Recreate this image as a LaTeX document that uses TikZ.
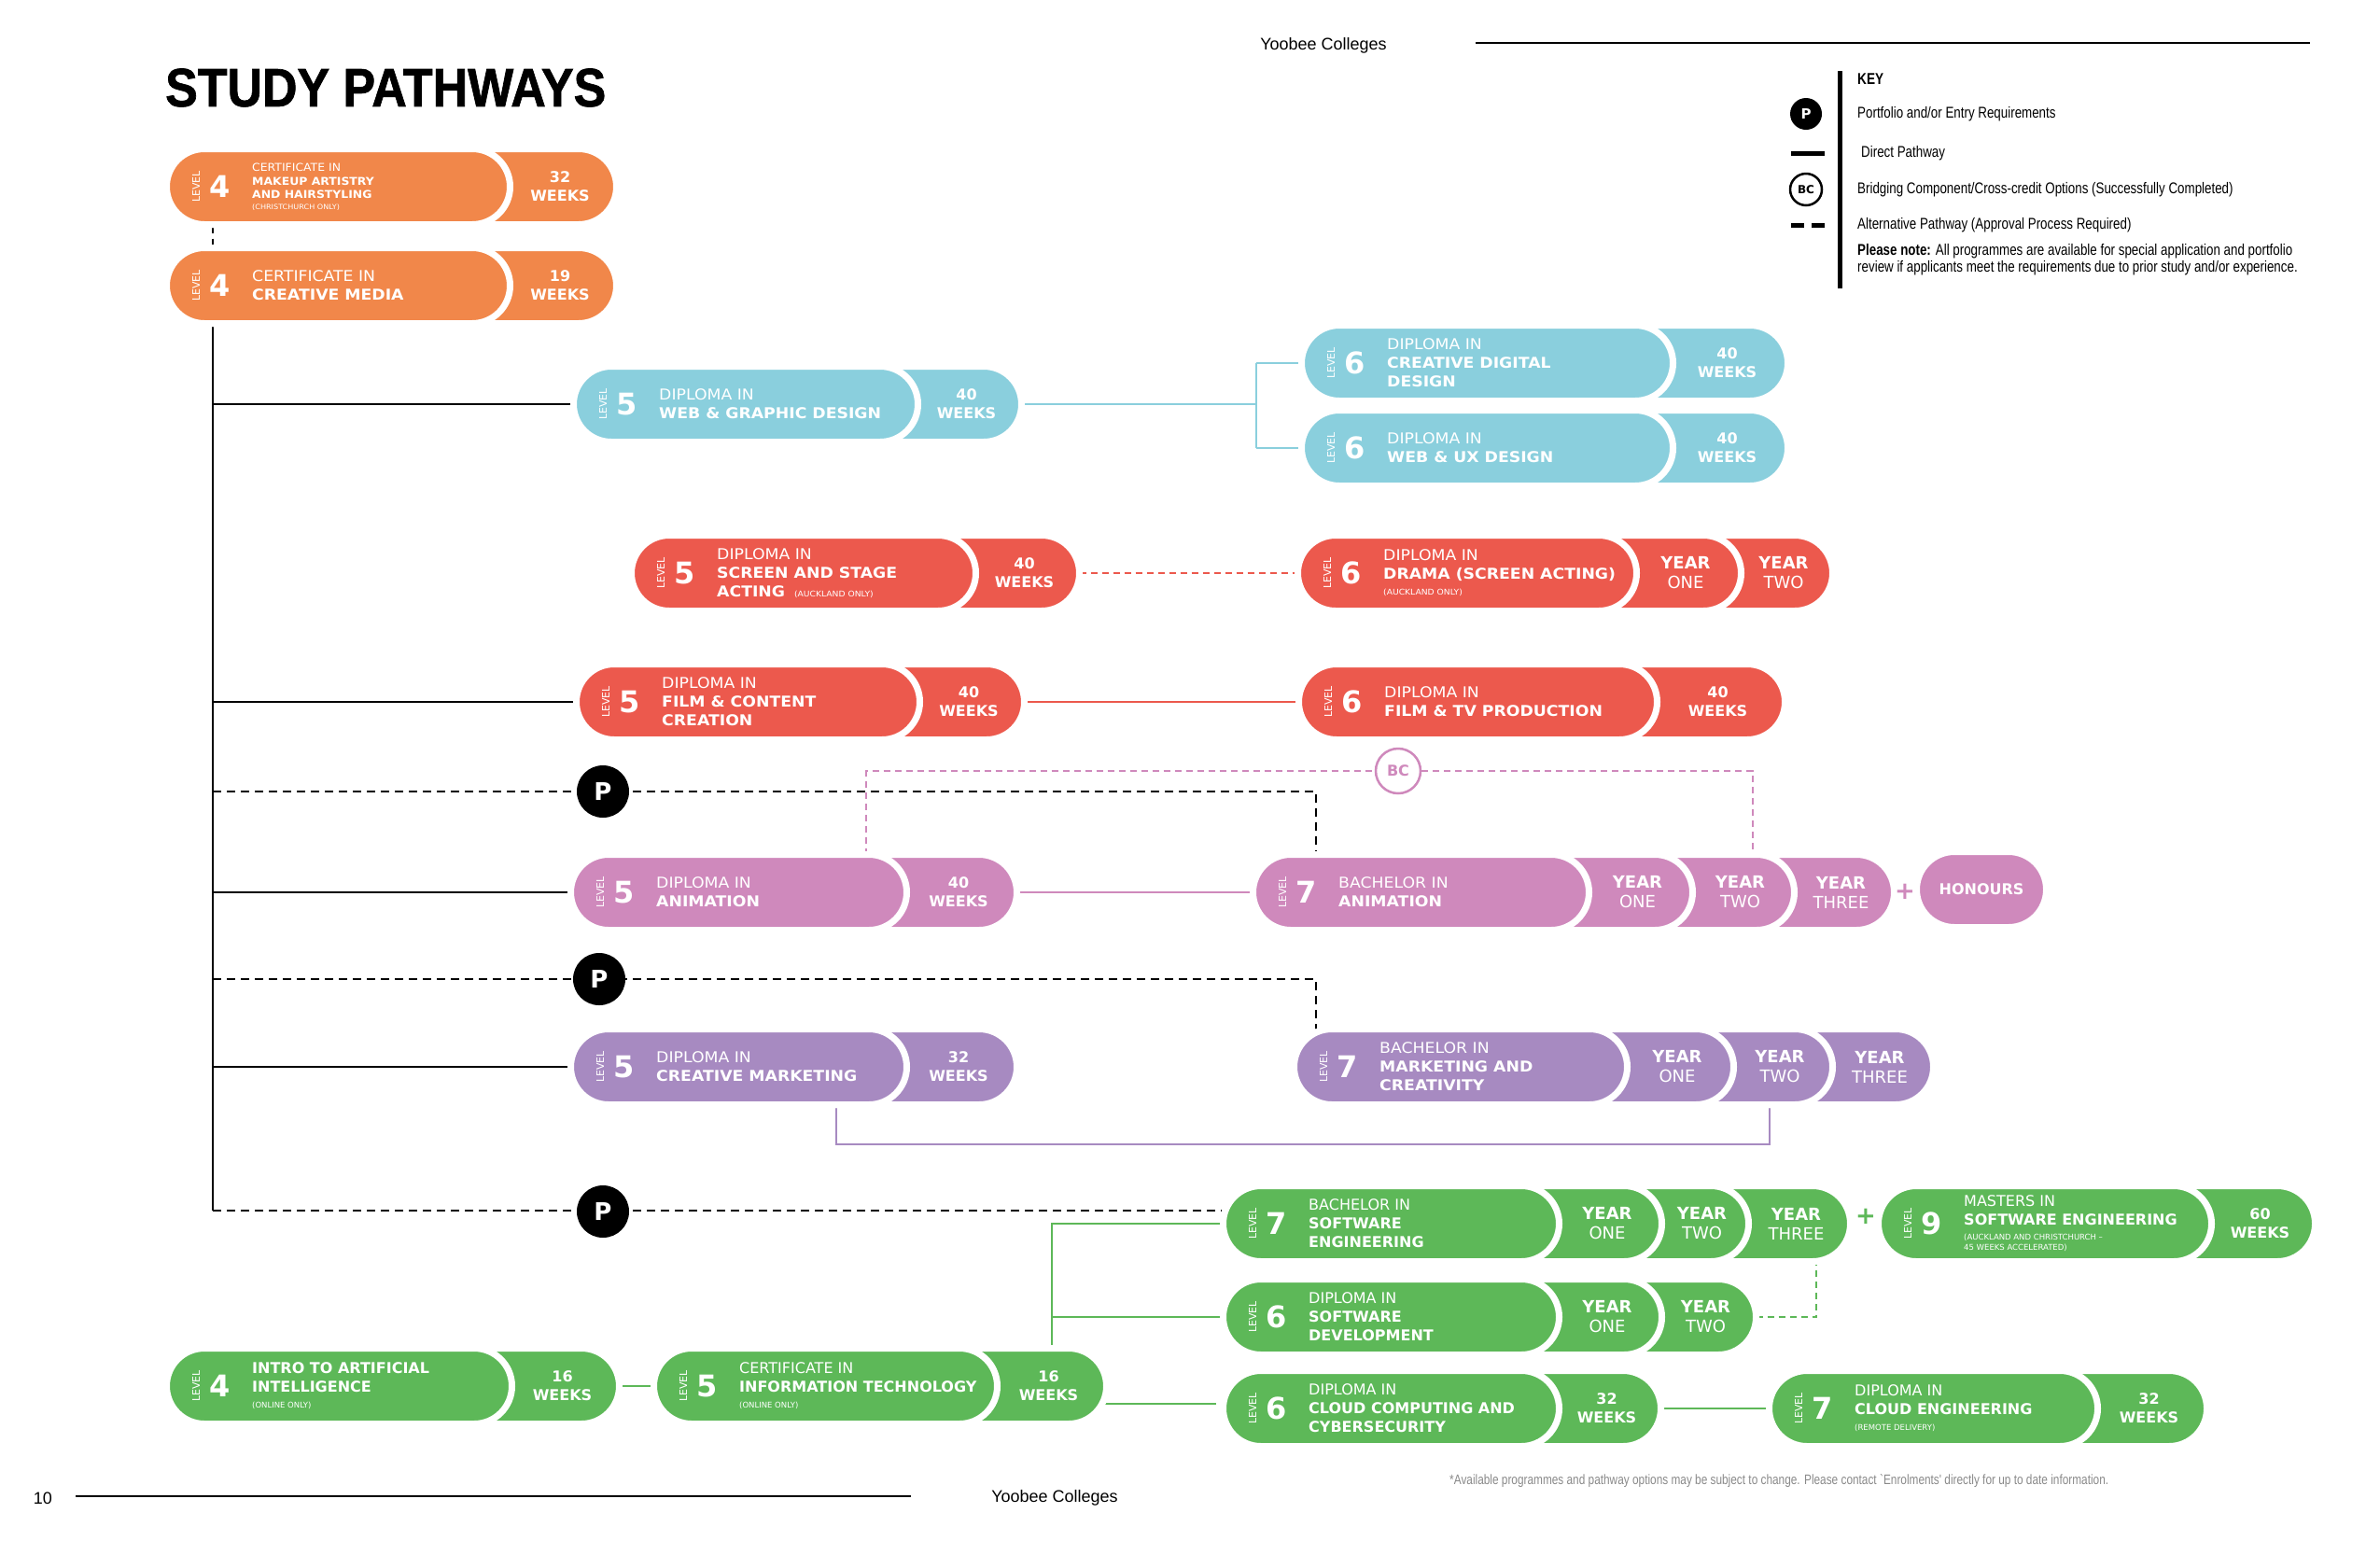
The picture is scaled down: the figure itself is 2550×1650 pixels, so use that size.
\documentclass[tikz,border=0pt]{standalone}
\usepackage{fontspec}
\setmainfont{DejaVu Sans}
\newfontfamily\pillfont[FakeStretch=1.08]{DejaVu Sans}
\newfontfamily\keyfont[FakeStretch=0.8]{Liberation Sans}
\newfontfamily\titlefont[FakeStretch=0.895,FakeBold=1.2]{Liberation Sans}
\newfontfamily\plainsans{Liberation Sans}
\usetikzlibrary{shapes.misc,backgrounds}
\definecolor{orangeC}{HTML}{F1874A}
\definecolor{blueC}{HTML}{8ACFDD}
\definecolor{redC}{HTML}{EC594D}
\definecolor{pinkC}{HTML}{CF89BC}
\definecolor{purpC}{HTML}{A78AC1}
\definecolor{greenC}{HTML}{5DB858}
\definecolor{fnC}{HTML}{8A8A8A}
\tikzset{
 capsule/.style={rounded rectangle, draw=white, line width=7pt, minimum height=81pt, inner sep=0pt, outer sep=0pt, anchor=west},
 lvltxt/.style={rotate=90, text=white, font=\fontsize{11}{11}\selectfont, inner sep=0pt},
 digit/.style={text=white, font=\bfseries\fontsize{32}{32}\selectfont, inner sep=0pt},
 mtxt/.style={anchor=west, align=left, text=white, inner sep=0pt, font=\pillfont\fontsize{16}{20}\selectfont},
 gtxt/.style={font=\fontsize{16}{20}\selectfont},
 wtxt/.style={align=center, text=white, inner sep=0pt, font=\bfseries\fontsize{16}{20}\selectfont},
 ytxt/.style={align=center, text=white, inner sep=0pt, font=\bfseries\fontsize{18}{21}\selectfont},
 conn/.style={line width=2.5pt},
 dsh/.style={line width=2.5pt, dash pattern=on 9pt off 6pt},
 cdsh/.style={line width=2.2pt, dash pattern=on 7pt off 5pt},
 pcirc/.style={circle, fill=black, minimum size=56pt, inner sep=0pt, text=white, font=\bfseries\fontsize{26}{26}\selectfont},
 keytxt/.style={anchor=west, inner sep=0pt, font=\keyfont\fontsize{16.7}{18.5}\selectfont},
}
\newcommand\capsl[5]{\node[capsule,fill=#2,minimum width={#4-(#3)+7}] (#1) at ({#3-3.5},#5) {};}
\newcommand\lvl[4]{\node[lvltxt] (#1-lv) at ({#2+28},#3) {LEVEL};\node[digit] (#1-dg) at ({#2+54},#3) {#4};}
\newcommand\mtxt[5][]{\node[mtxt,#1] (#2-tx) at ({#3+88},#4) {#5};}
\newcommand\stxt[6][wtxt]{\node[#1] (#2) at ({(#3+#4)/2},#5) {#6};}
\newcommand\smalltxt[1]{{\fontsize{8.5}{10}\selectfont #1}}
\begin{document}
\begin{tikzpicture}[x=1pt,y=-1pt]
\useasboundingbox (0,0) rectangle (2550,1650);
% ---------- coordinates ----------
\coordinate (trk) at (228,0);
\coordinate (tend) at (228,1297);
\coordinate (dropx) at (1410,0);
\coordinate (bj) at (1346,433);
\coordinate (bcl) at (928,826);
\coordinate (bcr) at (1878,826);
\coordinate (mb1) at (896,1226);
\coordinate (mb2) at (1896,1226);
\coordinate (gv) at (1127,1311);
\coordinate (gd) at (1946,1411);
% ---------- title / header ----------
\node[anchor=west, inner sep=0pt, font=\titlefont\bfseries\fontsize{58}{58}\selectfont] (title) at (177,94) {STUDY PATHWAYS};
\node[inner sep=0pt, font=\plainsans\fontsize{18}{18}\selectfont] (hdr) at (1418,49) {Yoobee Colleges};
\draw[line width=1.5pt] (1581,46) -- (2475,46);
% ---------- key ----------
\draw[line width=5pt] (1971,76) -- (1971,309);
\node[circle, fill=black, minimum size=34pt, inner sep=0pt, text=white, font=\bfseries\fontsize{15}{15}\selectfont] (kp) at (1935,122) {P};
\draw[line width=5pt] (1919,164) -- (1955,164);
\node[circle, draw=black, fill=white, line width=2.5pt, minimum size=34pt, inner sep=0pt, font=\bfseries\fontsize{12}{12}\selectfont] (kbc) at (1935,203) {BC};
\draw[line width=5pt, dash pattern=on 14pt off 8pt] (1919,241) -- (1958,241);
\node[keytxt, font=\keyfont\bfseries\fontsize{17}{17}\selectfont] (kkey) at (1990,85) {KEY};
\node[keytxt] (k1) at (1990,122) {Portfolio and/or Entry Requirements};
\node[keytxt] (k2) at (1994,164) {Direct Pathway};
\node[keytxt] (k3) at (1990,203) {Bridging Component/Cross-credit Options (Successfully Completed)};
\node[keytxt] (k4) at (1990,241) {Alternative Pathway (Approval Process Required)};
\node[keytxt, align=left] (k5) at (1990,278) {\textbf{Please note:} All programmes are available for special application and portfolio\\review if applicants meet the requirements due to prior study and/or experience.};
% ---------- pills ----------
% makeup
\capsl{mk-s1}{orangeC}{182}{657}{200}
\capsl{mk}{orangeC}{182}{543}{200}
\lvl{mk}{182}{200}{4}
\mtxt[font=\pillfont\fontsize{11.5}{14.5}\selectfont]{mk}{182}{200}{CERTIFICATE IN\\\textbf{MAKEUP ARTISTRY}\\\textbf{AND HAIRSTYLING}\\[-3pt]{\fontsize{7.5}{9}\selectfont (CHRISTCHURCH ONLY)}}
\stxt{mk-w}{543}{657}{200}{32\\WEEKS}
% creative media
\capsl{cm-s1}{orangeC}{182}{657}{306}
\capsl{cm}{orangeC}{182}{543}{306}
\lvl{cm}{182}{306}{4}
\mtxt{cm}{182}{306}{CERTIFICATE IN\\\textbf{CREATIVE MEDIA}}
\stxt{cm-w}{543}{657}{306}{19\\WEEKS}
% web & graphic
\capsl{wg-s1}{blueC}{618}{1091}{433}
\capsl{wg}{blueC}{618}{980}{433}
\lvl{wg}{618}{433}{5}
\mtxt{wg}{618}{433}{DIPLOMA IN\\\textbf{WEB \& GRAPHIC DESIGN}}
\stxt{wg-w}{980}{1091}{433}{40\\WEEKS}
% creative digital design
\capsl{cdd-s1}{blueC}{1398}{1912}{389}
\capsl{cdd}{blueC}{1398}{1789}{389}
\lvl{cdd}{1398}{389}{6}
\mtxt{cdd}{1398}{389}{DIPLOMA IN\\\textbf{CREATIVE DIGITAL}\\\textbf{DESIGN}}
\stxt{cdd-w}{1789}{1912}{389}{40\\WEEKS}
% web & ux
\capsl{wux-s1}{blueC}{1398}{1912}{480}
\capsl{wux}{blueC}{1398}{1789}{480}
\lvl{wux}{1398}{480}{6}
\mtxt{wux}{1398}{480}{DIPLOMA IN\\\textbf{WEB \& UX DESIGN}}
\stxt{wux-w}{1789}{1912}{480}{40\\WEEKS}
% screen and stage acting
\capsl{ssa-s1}{redC}{680}{1153}{614}
\capsl{ssa}{redC}{680}{1042}{614}
\lvl{ssa}{680}{614}{5}
\mtxt{ssa}{680}{614}{DIPLOMA IN\\\textbf{SCREEN AND STAGE}\\\textbf{ACTING}\hspace{10pt}\smalltxt{(AUCKLAND ONLY)}}
\stxt{ssa-w}{1042}{1153}{614}{40\\WEEKS}
% drama
\capsl{dra-s2}{redC}{1394}{1960}{614}
\capsl{dra-s1}{redC}{1394}{1862}{614}
\capsl{dra}{redC}{1394}{1750}{614}
\lvl{dra}{1394}{614}{6}
\mtxt{dra}{1394}{614}{DIPLOMA IN\\\textbf{DRAMA (SCREEN ACTING)}\\[-3pt]\smalltxt{(AUCKLAND ONLY)}}
\stxt[ytxt]{dra-y1}{1750}{1862}{614}{YEAR\\\mdseries ONE}
\stxt[ytxt]{dra-y2}{1862}{1960}{614}{YEAR\\\mdseries TWO}
% film & content creation
\capsl{fcc-s1}{redC}{621}{1094}{752}
\capsl{fcc}{redC}{621}{982}{752}
\lvl{fcc}{621}{752}{5}
\mtxt{fcc}{621}{752}{DIPLOMA IN\\\textbf{FILM \& CONTENT}\\\textbf{CREATION}}
\stxt{fcc-w}{982}{1094}{752}{40\\WEEKS}
% film & tv
\capsl{ftv-s1}{redC}{1395}{1909}{752}
\capsl{ftv}{redC}{1395}{1772}{752}
\lvl{ftv}{1395}{752}{6}
\mtxt{ftv}{1395}{752}{DIPLOMA IN\\\textbf{FILM \& TV PRODUCTION}}
\stxt{ftv-w}{1772}{1909}{752}{40\\WEEKS}
% diploma animation
\capsl{dan-s1}{pinkC}{615}{1086}{956}
\capsl{dan}{pinkC}{615}{968}{956}
\lvl{dan}{615}{956}{5}
\mtxt{dan}{615}{956}{DIPLOMA IN\\\textbf{ANIMATION}}
\stxt{dan-w}{968}{1086}{956}{40\\WEEKS}
% bachelor animation
\capsl{ban-s3}{pinkC}{1346}{2026}{956}
\capsl{ban-s2}{pinkC}{1346}{1919}{956}
\capsl{ban-s1}{pinkC}{1346}{1810}{956}
\capsl{ban}{pinkC}{1346}{1699}{956}
\lvl{ban}{1346}{956}{7}
\mtxt{ban}{1346}{956}{BACHELOR IN\\\textbf{ANIMATION}}
\stxt[ytxt]{ban-y1}{1699}{1810}{956}{YEAR\\\mdseries ONE}
\stxt[ytxt]{ban-y2}{1810}{1919}{956}{YEAR\\\mdseries TWO}
\stxt[ytxt]{ban-y3}{1919}{2026}{956}{YEAR\\\mdseries THREE}
\node[text=pinkC, inner sep=0pt, font=\bfseries\fontsize{26}{26}\selectfont] (plus1) at (2041,955) {+};
\node[capsule, anchor=center, fill=pinkC, minimum width=139pt, text=white, font=\bfseries\fontsize{16}{16}\selectfont] (hon) at (2123,953) {HONOURS};
% creative marketing
\capsl{dcm-s1}{purpC}{615}{1086}{1143}
\capsl{dcm}{purpC}{615}{968}{1143}
\lvl{dcm}{615}{1143}{5}
\mtxt{dcm}{615}{1143}{DIPLOMA IN\\\textbf{CREATIVE MARKETING}}
\stxt{dcm-w}{968}{1086}{1143}{32\\WEEKS}
% bachelor marketing
\capsl{bmc-s3}{purpC}{1390}{2068}{1143}
\capsl{bmc-s2}{purpC}{1390}{1960}{1143}
\capsl{bmc-s1}{purpC}{1390}{1854}{1143}
\capsl{bmc}{purpC}{1390}{1740}{1143}
\lvl{bmc}{1390}{1143}{7}
\mtxt{bmc}{1390}{1143}{BACHELOR IN\\\textbf{MARKETING AND}\\\textbf{CREATIVITY}}
\stxt[ytxt]{bmc-y1}{1740}{1854}{1143}{YEAR\\\mdseries ONE}
\stxt[ytxt]{bmc-y2}{1854}{1960}{1143}{YEAR\\\mdseries TWO}
\stxt[ytxt]{bmc-y3}{1960}{2068}{1143}{YEAR\\\mdseries THREE}
% bachelor software engineering
\capsl{bse-s3}{greenC}{1314}{1979}{1311}
\capsl{bse-s2}{greenC}{1314}{1870}{1311}
\capsl{bse-s1}{greenC}{1314}{1777}{1311}
\capsl{bse}{greenC}{1314}{1667}{1311}
\lvl{bse}{1314}{1311}{7}
\mtxt[gtxt]{bse}{1314}{1311}{BACHELOR IN\\\textbf{SOFTWARE}\\\textbf{ENGINEERING}}
\stxt[ytxt]{bse-y1}{1667}{1777}{1311}{YEAR\\\mdseries ONE}
\stxt[ytxt]{bse-y2}{1777}{1870}{1311}{YEAR\\\mdseries TWO}
\stxt[ytxt]{bse-y3}{1870}{1979}{1311}{YEAR\\\mdseries THREE}
\node[text=greenC, inner sep=0pt, font=\bfseries\fontsize{26}{26}\selectfont] (plus2) at (1999,1303) {+};
% masters
\capsl{mse-s1}{greenC}{2016}{2477}{1311}
\capsl{mse}{greenC}{2016}{2366}{1311}
\lvl{mse}{2016}{1311}{9}
\mtxt[gtxt]{mse}{2016}{1311}{MASTERS IN\\\textbf{SOFTWARE ENGINEERING}\\[-4pt]\smalltxt{(AUCKLAND AND CHRISTCHURCH --}\\[-9pt]\smalltxt{45 WEEKS ACCELERATED)}}
\stxt{mse-w}{2366}{2477}{1311}{60\\WEEKS}
% software development
\capsl{ssd-s2}{greenC}{1314}{1878}{1411}
\capsl{ssd-s1}{greenC}{1314}{1777}{1411}
\capsl{ssd}{greenC}{1314}{1667}{1411}
\lvl{ssd}{1314}{1411}{6}
\mtxt[gtxt]{ssd}{1314}{1411}{DIPLOMA IN\\\textbf{SOFTWARE}\\\textbf{DEVELOPMENT}}
\stxt[ytxt]{ssd-y1}{1667}{1777}{1411}{YEAR\\\mdseries ONE}
\stxt[ytxt]{ssd-y2}{1777}{1878}{1411}{YEAR\\\mdseries TWO}
% cloud computing
\capsl{ccc-s1}{greenC}{1314}{1776}{1509}
\capsl{ccc}{greenC}{1314}{1667}{1509}
\lvl{ccc}{1314}{1509}{6}
\mtxt[gtxt]{ccc}{1314}{1509}{DIPLOMA IN\\\textbf{CLOUD COMPUTING AND}\\\textbf{CYBERSECURITY}}
\stxt{ccc-w}{1667}{1776}{1509}{32\\WEEKS}
% cloud engineering
\capsl{cle-s1}{greenC}{1899}{2361}{1509}
\capsl{cle}{greenC}{1899}{2244}{1509}
\lvl{cle}{1899}{1509}{7}
\mtxt[gtxt]{cle}{1899}{1509}{DIPLOMA IN\\\textbf{CLOUD ENGINEERING}\\[-3pt]\smalltxt{(REMOTE DELIVERY)}}
\stxt{cle-w}{2244}{2361}{1509}{32\\WEEKS}
% intro AI
\capsl{ai-s1}{greenC}{182}{660}{1485}
\capsl{ai}{greenC}{182}{545}{1485}
\lvl{ai}{182}{1485}{4}
\mtxt[gtxt]{ai}{182}{1485}{\textbf{INTRO TO ARTIFICIAL}\\\textbf{INTELLIGENCE}\\[-3pt]\smalltxt{(ONLINE ONLY)}}
\stxt{ai-w}{545}{660}{1485}{16\\WEEKS}
% cert IT
\capsl{cit-s1}{greenC}{704}{1182}{1485}
\capsl{cit}{greenC}{704}{1065}{1485}
\lvl{cit}{704}{1485}{5}
\mtxt[gtxt]{cit}{704}{1485}{CERTIFICATE IN\\\textbf{INFORMATION TECHNOLOGY}\\[-3pt]\smalltxt{(ONLINE ONLY)}}
\stxt{cit-w}{1065}{1182}{1485}{16\\WEEKS}
% ---------- P and BC markers ----------
\node[pcirc] (p1) at (646,848) {P};
\node[pcirc] (p2) at (642,1049) {P};
\node[pcirc] (p3) at (646,1298) {P};
\node[circle, draw=pinkC, fill=white, line width=2.5pt, minimum size=48pt, inner sep=0pt, text=pinkC, font=\bfseries\fontsize{16}{16}\selectfont] (bc) at (1498,826) {BC};
% ---------- footer ----------
\node[inner sep=0pt, font=\plainsans\fontsize{18}{18}\selectfont] (pg) at (46,1605) {10};
\draw[line width=1.5pt] (81,1603) -- (976,1603);
\node[inner sep=0pt, font=\plainsans\fontsize{18}{18}\selectfont] (ftr) at (1130,1605) {Yoobee Colleges};
\node[anchor=west, inner sep=0pt, text=fnC, font=\keyfont\fontsize{14.8}{14.8}\selectfont] (fn) at (1553,1587) {*Available programmes and pathway options may be subject to change. Please contact `Enrolments' directly for up to date information.};
% ---------- connectors ----------
\begin{pgfonlayer}{background}
\fill[white] (0,0) rectangle (2550,1650);
\draw[dsh] (mk.south -| trk) -- (cm.north -| trk);
\draw[conn] (cm.south -| trk) -- (tend);
\draw[conn] (wg.west -| trk) -- (wg.west);
\draw[conn] (fcc.west -| trk) -- (fcc.west);
\draw[conn] (dan.west -| trk) -- (dan.west);
\draw[conn] (dcm.west -| trk) -- (dcm.west);
\draw[dsh] (p1 -| trk) -- (p1 -| dropx) -- (ban.north -| dropx);
\draw[dsh] (p2 -| trk) -- (p2 -| dropx) -- (bmc.north -| dropx);
\draw[dsh] (tend) -- (tend -| bse.west);
\draw[conn, blueC] (wg-s1.east) -- (bj);
\draw[conn, blueC] (cdd.west -| bj) -- (wux.west -| bj);
\draw[conn, blueC] (cdd.west -| bj) -- (cdd.west);
\draw[conn, blueC] (wux.west -| bj) -- (wux.west);
\draw[cdsh, redC] (ssa-s1.east) -- (dra.west);
\draw[conn, redC] (fcc-s1.east) -- (ftv.west);
\draw[conn, pinkC] (dan-s1.east) -- (ban.west);
\draw[cdsh, pinkC] (bcl |- dan.north) -- (bcl) -- (bc);
\draw[cdsh, pinkC] (bc) -- (bcr) -- (bcr |- ban-s2.north);
\draw[conn, purpC] (mb1 |- dcm.south) -- (mb1) -- (mb2) -- (mb2 |- bmc.south);
\draw[conn, greenC] (gv |- cit.north) -- (gv) -- (bse.west);
\draw[conn, greenC] (gv |- ssd.west) -- (ssd.west);
\draw[conn, greenC] ([xshift=-8pt,yshift=-19pt]cit-s1.east) -- ([xshift=-8pt,yshift=-19pt]cit-s1.east -| ccc.west);
\draw[conn, greenC] (ccc-s1.east) -- (cle.west);
\draw[conn, greenC] (ai-s1.east) -- (cit.west);
\draw[cdsh, greenC] (ssd-s2.east) -- (gd) -- (gd |- bse-s3.south);
\end{pgfonlayer}
\end{tikzpicture}
\end{document}
